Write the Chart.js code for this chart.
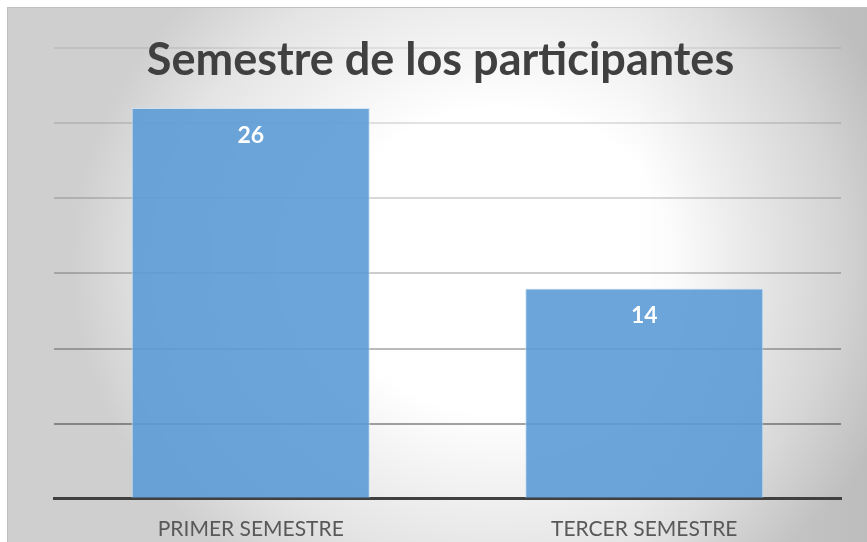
<!DOCTYPE html>
<html>
<head>
<meta charset="utf-8">
<script src="https://cdn.jsdelivr.net/npm/chart.js@4"></script>
<style>
  html, body { margin: 0; padding: 0; background: #ffffff; }
  #bg {
    position: absolute; left: 7px; top: 7px; width: 870px; height: 545px;
    border-top: 1px solid #c0c0c0; border-left: 1px solid #c0c0c0;
    background:
      linear-gradient(to right, rgba(0,0,0,0) 72%, rgba(0,0,0,0.09) 100%),
      radial-gradient(ellipse 430px 380px at 493px 253px, #ffffff 0%, #ffffff 40%, #e4e4e4 80%, #cfcfcf 100%, #cfcfcf);
  }
  #wrap { position: absolute; left: 0; top: 0; width: 867px; height: 542px; }
</style>
</head>
<body>
<div id="bg"></div>
<div id="wrap"><canvas id="c"></canvas></div>
<script>
const chartTitle = "Semestre de los participantes";
const categories = ["PRIMER SEMESTRE", "TERCER SEMESTRE"];
const participantes = [26, 14];
const yTicks = [0, 5, 10, 15, 20, 25, 30];

const FONT = "Lato, 'Open Sans', sans-serif";

const gridAlpha = [0.0, 0.36, 0.27, 0.2, 0.15, 0.11, 0.07];

const barLabels = {
  id: 'barLabels',
  afterDatasetsDraw(chart) {
    const ctx = chart.ctx;
    const meta = chart.getDatasetMeta(0);
    ctx.save();
    ctx.fillStyle = '#ffffff';
    ctx.font = "bold 23px " + FONT;
    ctx.textAlign = 'center';
    ctx.textBaseline = 'middle';
    meta.data.forEach((bar, i) => {
      ctx.fillText(String(chart.data.datasets[0].data[i]), bar.x, bar.y + 27);
    });
    ctx.restore();
  }
};

new Chart(document.getElementById('c'), {
  type: 'bar',
  data: {
    labels: categories,
    datasets: [{
      data: participantes,
      backgroundColor: 'rgba(91,155,213,0.9)',
      borderColor: 'rgba(200,225,245,0.8)',
      borderWidth: 1,
      categoryPercentage: 1.0,
      barPercentage: 0.605
    }]
  },
  options: {
    responsive: true,
    maintainAspectRatio: false,
    animation: false,
    layout: { padding: { left: 40, right: 26, top: 0, bottom: -18 } },
    plugins: {
      legend: { display: false },
      tooltip: { enabled: false },
      title: {
        display: true,
        text: chartTitle,
        color: '#404040',
        font: { family: FONT, size: 45, weight: 'bold' },
        padding: { top: 33, bottom: -39 }
      }
    },
    scales: {
      x: {
        grid: { display: false, drawTicks: false },
        border: { display: true, color: '#404040', width: 3 },
        ticks: { color: '#595959', font: { family: FONT, size: 21 }, padding: 18 }
      },
      y: {
        min: 0, max: 30,
        afterBuildTicks(scale) { scale.ticks = yTicks.map(v => ({ value: v })); },
        afterFit(scale) { scale.width = 14; },
        ticks: { display: false },
        border: { display: false },
        grid: {
          drawTicks: false,
          lineWidth: 2,
          color: (c) => `rgba(0,0,0,${gridAlpha[c.index] ?? 0.1})`
        }
      }
    }
  },
  plugins: [barLabels]
});
</script>
</body>
</html>
